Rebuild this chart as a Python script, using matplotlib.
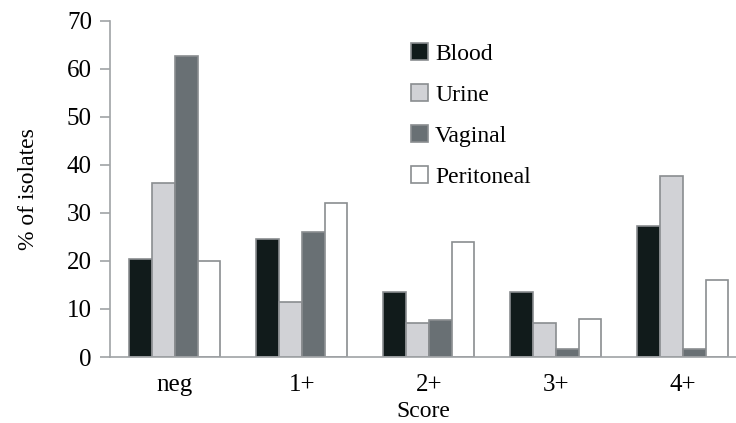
import matplotlib.pyplot as plt
import numpy as np

plt.rcParams['font.family'] = ['Liberation Serif', 'DejaVu Serif']

scores = ['neg', '1+', '2+', '3+', '4+']
blood = [20.5, 24.6, 13.6, 13.6, 27.3]
urine = [36.3, 11.5, 7.0, 7.0, 37.7]
vaginal = [62.7, 26.0, 7.7, 1.7, 1.7]
peritoneal = [20.0, 32.0, 24.0, 7.9, 16.0]

series = [('Blood', blood, '#111b1b'),
          ('Urine', urine, '#d1d2d6'),
          ('Vaginal', vaginal, '#697074'),
          ('Peritoneal', peritoneal, '#ffffff')]

fig = plt.figure(figsize=(7.36, 4.23), dpi=100)
ax = fig.add_axes([0.1495, 0.156, 0.8505, 0.795])

x = np.arange(len(scores))
w = 0.18
for i, (name, vals, col) in enumerate(series):
    ax.bar(x + (i - 1.5) * w, vals, w, color=col, edgecolor='#8a8d90',
           linewidth=1.2, label=name)

ax.set_xlim(-0.51, 4.42)
ax.set_ylim(0, 70)
ax.set_yticks(range(0, 71, 10))
ax.set_xticks(x)
ax.set_xticklabels(scores)

for s in ['top', 'right']:
    ax.spines[s].set_visible(False)
for s in ['left', 'bottom']:
    ax.spines[s].set_color('#a0a3a6')
    ax.spines[s].set_linewidth(1.2)
ax.tick_params(axis='y', direction='out', length=7, width=1.2, color='#a0a3a6',
               labelsize=18, pad=6)
ax.tick_params(axis='x', length=0, labelsize=18, pad=12)

ax.set_xlabel('Score', fontsize=17, labelpad=4)
ax.set_ylabel('% of isolates', fontsize=17, labelpad=20)

leg = ax.legend(loc='upper left', bbox_to_anchor=(0.447, 0.997), frameon=False,
                fontsize=17, handlelength=0.72, handleheight=0.72,
                labelspacing=0.82, handletextpad=0.3)

fig.savefig('out.png', dpi=100)
